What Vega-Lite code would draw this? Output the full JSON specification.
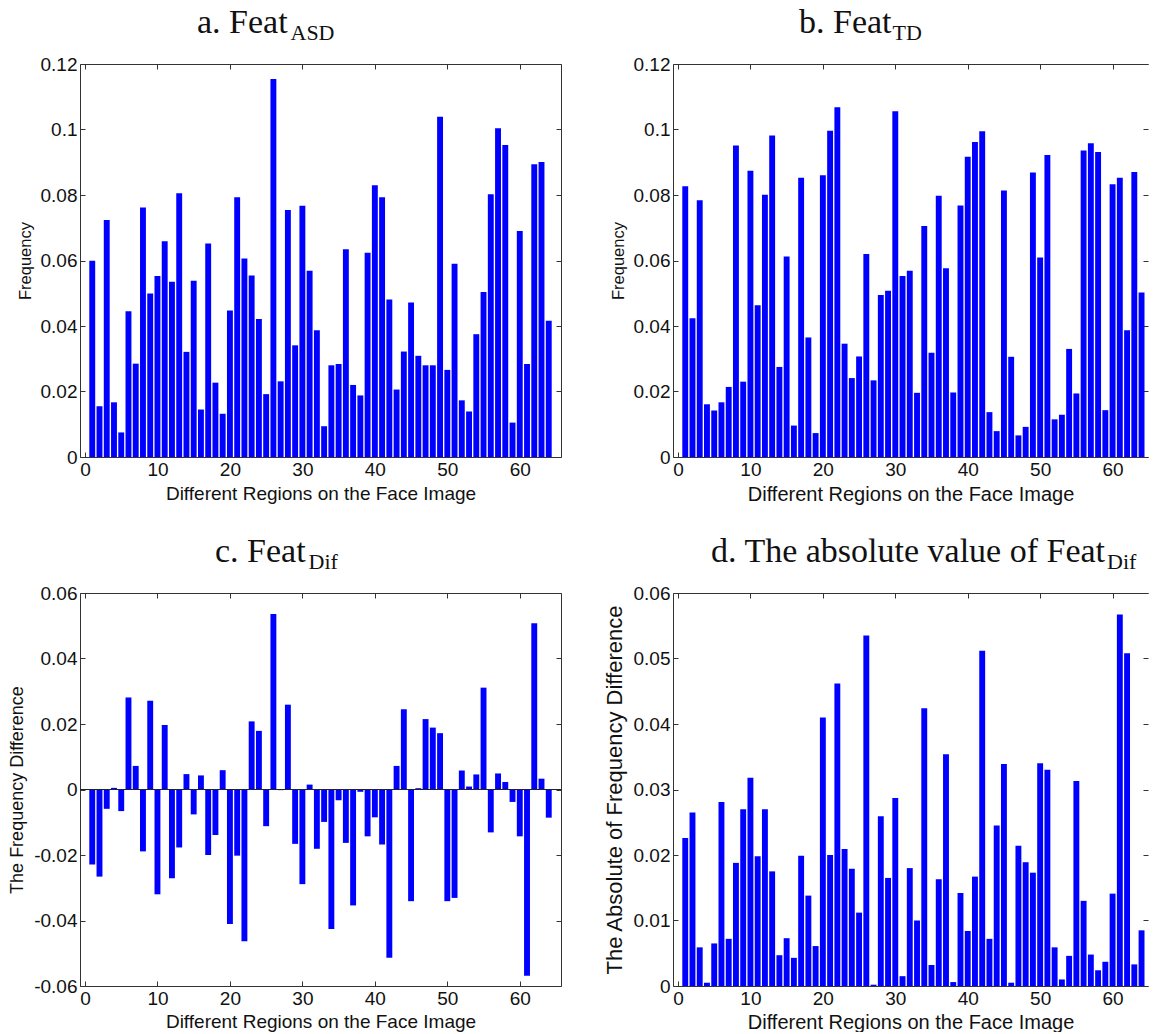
{
  "$schema": "https://vega.github.io/schema/vega-lite/v6.json",
  "padding": {"left": 8, "top": 6, "right": 0, "bottom": 0},
  "background": "white",
  "datasets": {
    "regions": [
      {"i":1,"a":0.0599,"b":0.0827,"c":-0.0229,"d":0.0226},
      {"i":2,"a":0.0155,"b":0.0424,"c":-0.0266,"d":0.0265},
      {"i":3,"a":0.0724,"b":0.0784,"c":-0.0059,"d":0.0059},
      {"i":4,"a":0.0167,"b":0.0161,"c":0.0005,"d":0.0005},
      {"i":5,"a":0.0075,"b":0.0142,"c":-0.0066,"d":0.0065},
      {"i":6,"a":0.0445,"b":0.0167,"c":0.0281,"d":0.0281},
      {"i":7,"a":0.0285,"b":0.0214,"c":0.0072,"d":0.0072},
      {"i":8,"a":0.0762,"b":0.0951,"c":-0.0189,"d":0.0188},
      {"i":9,"a":0.0499,"b":0.023,"c":0.0271,"d":0.027},
      {"i":10,"a":0.0553,"b":0.0874,"c":-0.032,"d":0.0318},
      {"i":11,"a":0.0659,"b":0.0463,"c":0.0197,"d":0.0198},
      {"i":12,"a":0.0535,"b":0.0801,"c":-0.0271,"d":0.027},
      {"i":13,"a":0.0805,"b":0.0982,"c":-0.0177,"d":0.0175},
      {"i":14,"a":0.0321,"b":0.0275,"c":0.0047,"d":0.0047},
      {"i":15,"a":0.0538,"b":0.0612,"c":-0.0076,"d":0.0073},
      {"i":16,"a":0.0145,"b":0.0096,"c":0.0043,"d":0.0043},
      {"i":17,"a":0.0652,"b":0.0853,"c":-0.02,"d":0.0199},
      {"i":18,"a":0.0227,"b":0.0365,"c":-0.0139,"d":0.0138},
      {"i":19,"a":0.0132,"b":0.0073,"c":0.0059,"d":0.0061},
      {"i":20,"a":0.0447,"b":0.086,"c":-0.0411,"d":0.041},
      {"i":21,"a":0.0793,"b":0.0996,"c":-0.0202,"d":0.02},
      {"i":22,"a":0.0606,"b":0.1068,"c":-0.0463,"d":0.0462},
      {"i":23,"a":0.0554,"b":0.0346,"c":0.0208,"d":0.0209},
      {"i":24,"a":0.0421,"b":0.0241,"c":0.0179,"d":0.0179},
      {"i":25,"a":0.0192,"b":0.0307,"c":-0.0112,"d":0.0112},
      {"i":26,"a":0.1154,"b":0.062,"c":0.0536,"d":0.0535},
      {"i":27,"a":0.0231,"b":0.0234,"c":-0.0002,"d":0.0002},
      {"i":28,"a":0.0754,"b":0.0495,"c":0.0259,"d":0.0259},
      {"i":29,"a":0.0341,"b":0.0508,"c":-0.0166,"d":0.0165},
      {"i":30,"a":0.0767,"b":0.1056,"c":-0.0289,"d":0.0287},
      {"i":31,"a":0.0569,"b":0.0553,"c":0.0015,"d":0.0015},
      {"i":32,"a":0.0387,"b":0.0569,"c":-0.0181,"d":0.018},
      {"i":33,"a":0.0094,"b":0.0196,"c":-0.0099,"d":0.01},
      {"i":34,"a":0.028,"b":0.0705,"c":-0.0426,"d":0.0424},
      {"i":35,"a":0.0284,"b":0.0318,"c":-0.0033,"d":0.0032},
      {"i":36,"a":0.0634,"b":0.0798,"c":-0.0163,"d":0.0163},
      {"i":37,"a":0.022,"b":0.0576,"c":-0.0354,"d":0.0354},
      {"i":38,"a":0.0188,"b":0.0197,"c":-0.0007,"d":0.0006},
      {"i":39,"a":0.0624,"b":0.0768,"c":-0.0143,"d":0.0142},
      {"i":40,"a":0.083,"b":0.0917,"c":-0.0085,"d":0.0084},
      {"i":41,"a":0.0793,"b":0.0962,"c":-0.0168,"d":0.0167},
      {"i":42,"a":0.0481,"b":0.0995,"c":-0.0514,"d":0.0512},
      {"i":43,"a":0.0206,"b":0.0137,"c":0.0072,"d":0.0072},
      {"i":44,"a":0.0322,"b":0.0079,"c":0.0245,"d":0.0245},
      {"i":45,"a":0.0472,"b":0.0814,"c":-0.0341,"d":0.0339},
      {"i":46,"a":0.0309,"b":0.0306,"c":0.0004,"d":0.0005},
      {"i":47,"a":0.028,"b":0.0066,"c":0.0215,"d":0.0214},
      {"i":48,"a":0.028,"b":0.0092,"c":0.0189,"d":0.0189},
      {"i":49,"a":0.1039,"b":0.0869,"c":0.0172,"d":0.0173},
      {"i":50,"a":0.0266,"b":0.0609,"c":-0.0341,"d":0.034},
      {"i":51,"a":0.059,"b":0.0922,"c":-0.0331,"d":0.033},
      {"i":52,"a":0.0173,"b":0.0115,"c":0.0058,"d":0.0059},
      {"i":53,"a":0.0139,"b":0.0129,"c":0.0009,"d":0.001},
      {"i":54,"a":0.0375,"b":0.033,"c":0.0046,"d":0.0046},
      {"i":55,"a":0.0504,"b":0.0194,"c":0.0311,"d":0.0313},
      {"i":56,"a":0.0802,"b":0.0936,"c":-0.0131,"d":0.013},
      {"i":57,"a":0.1004,"b":0.0958,"c":0.0049,"d":0.0048},
      {"i":58,"a":0.0953,"b":0.0931,"c":0.0023,"d":0.0024},
      {"i":59,"a":0.0105,"b":0.0143,"c":-0.0038,"d":0.0037},
      {"i":60,"a":0.069,"b":0.0833,"c":-0.0143,"d":0.0141},
      {"i":61,"a":0.0284,"b":0.0853,"c":-0.0569,"d":0.0567},
      {"i":62,"a":0.0894,"b":0.0387,"c":0.0508,"d":0.0508},
      {"i":63,"a":0.0901,"b":0.087,"c":0.0033,"d":0.0033},
      {"i":64,"a":0.0416,"b":0.0502,"c":-0.0086,"d":0.0085}
    ]
  },
  "columns": 2,
  "align": "all",
  "spacing": {"row": 31, "column": 41},
  "concat": [
    {
      "title": {"text": "a. Feat", "subtitle": "\u200d\u00a0\u00a0\u00a0\u00a0\u00a0\u00a0\u00a0\u00a0\u00a0\u00a0\u00a0\u00a0\u00a0\u00a0\u00a0\u00a0\u00a0ASD", "dx": 117},
      "width": 481, "height": 393,
      "data": {"name": "regions"},
      "layer": [
        {"mark": {"type": "bar", "width": 5.9, "color": "#0000ff"},
         "encoding": {
           "x": {"field": "i", "type": "quantitative", "scale": {"domain": [0, 65], "nice": false}, "axis": {"orient": "bottom", "values": [0,10,20,30,40,50,60], "title": "Different Regions on the Face Image", "titleFontSize": 19, "titlePadding": 5}},
           "y": {"field": "a", "type": "quantitative", "scale": {"domain": [0, 0.12], "nice": false}, "axis": {"orient": "left", "values": [0,0.02,0.04,0.06,0.08,0.1,0.12], "title": "Frequency", "titleFontSize": 16.5, "labelExpr": "replace(format(datum.value, '~g'), '−', '-')"}}
         }},
        {"mark": {"type": "point", "opacity": 0},
         "encoding": {
           "x": {"field": "i", "type": "quantitative", "axis": {"orient": "top", "values": [0,10,20,30,40,50,60], "labels": false, "title": null}},
           "y": {"field": "a", "type": "quantitative", "axis": {"orient": "right", "values": [0,0.02,0.04,0.06,0.08,0.1,0.12], "labels": false, "title": null}}
         }}
      ],
      "resolve": {"axis": {"x": "independent", "y": "independent"}}
    },
    {
      "title": {"text": "b. Feat", "subtitle": "\u200d\u00a0\u00a0\u00a0\u00a0\u00a0\u00a0\u00a0\u00a0\u00a0\u00a0\u00a0\u00a0\u00a0\u00a0\u00a0\u00a0\u00a0TD", "dx": 126},
      "width": 475, "height": 393,
      "data": {"name": "regions"},
      "layer": [
        {"mark": {"type": "bar", "width": 5.9, "color": "#0000ff"},
         "encoding": {
           "x": {"field": "i", "type": "quantitative", "scale": {"domain": [0, 64.2], "nice": false}, "axis": {"orient": "bottom", "values": [0,10,20,30,40,50,60], "title": "Different Regions on the Face Image", "titleFontSize": 20, "titlePadding": 5}},
           "y": {"field": "b", "type": "quantitative", "scale": {"domain": [0, 0.12], "nice": false}, "axis": {"orient": "left", "values": [0,0.02,0.04,0.06,0.08,0.1,0.12], "title": "Frequency", "titleFontSize": 16.5, "labelExpr": "replace(format(datum.value, '~g'), '−', '-')"}}
         }},
        {"mark": {"type": "point", "opacity": 0},
         "encoding": {
           "x": {"field": "i", "type": "quantitative", "axis": {"orient": "top", "values": [0,10,20,30,40,50,60], "labels": false, "title": null}},
           "y": {"field": "b", "type": "quantitative", "axis": {"orient": "right", "domain": false, "values": [0,0.02,0.04,0.06,0.08,0.1,0.12], "labels": false, "title": null}}
         }}
      ],
      "resolve": {"axis": {"x": "independent", "y": "independent"}}
    },
    {
      "title": {"text": "c. Feat", "subtitle": "\u200d\u00a0\u00a0\u00a0\u00a0\u00a0\u00a0\u00a0\u00a0\u00a0\u00a0\u00a0\u00a0\u00a0\u00a0\u00a0\u00a0\u00a0Dif", "dx": 135},
      "width": 481, "height": 393,
      "data": {"name": "regions"},
      "layer": [
        {"mark": {"type": "bar", "width": 5.9, "color": "#0000ff"},
         "encoding": {
           "x": {"field": "i", "type": "quantitative", "scale": {"domain": [0, 65], "nice": false}, "axis": {"orient": "bottom", "values": [0,10,20,30,40,50,60], "title": "Different Regions on the Face Image", "titleFontSize": 19, "titlePadding": 4}},
           "y": {"field": "c", "type": "quantitative", "scale": {"domain": [-0.06, 0.06], "nice": false}, "axis": {"orient": "left", "values": [-0.06,-0.04,-0.02,0,0.02,0.04,0.06], "title": "The Frequency Difference", "titleFontSize": 18, "labelExpr": "replace(format(datum.value, '~g'), '−', '-')"}}
         }},
        {"mark": {"type": "rule", "color": "#222", "strokeWidth": 1},
         "encoding": {"y": {"datum": 0, "axis": null}}},
        {"mark": {"type": "point", "opacity": 0},
         "encoding": {
           "x": {"field": "i", "type": "quantitative", "axis": {"orient": "top", "values": [0,10,20,30,40,50,60], "labels": false, "title": null}},
           "y": {"field": "c", "type": "quantitative", "axis": {"orient": "right", "values": [-0.06,-0.04,-0.02,0,0.02,0.04,0.06], "labels": false, "title": null}}
         }}
      ],
      "resolve": {"axis": {"x": "independent", "y": "independent"}}
    },
    {
      "title": {"text": "d. The absolute value of Feat", "subtitle": "\u200d\u00a0\u00a0\u00a0\u00a0\u00a0\u00a0\u00a0\u00a0\u00a0\u00a0\u00a0\u00a0\u00a0\u00a0\u00a0\u00a0\u00a0\u00a0\u00a0\u00a0\u00a0\u00a0\u00a0\u00a0\u00a0\u00a0\u00a0\u00a0\u00a0\u00a0\u00a0\u00a0\u00a0\u00a0\u00a0\u00a0\u00a0\u00a0\u00a0\u00a0\u00a0\u00a0\u00a0\u00a0\u00a0\u00a0\u00a0\u00a0\u00a0\u00a0\u00a0\u00a0\u00a0\u00a0\u00a0\u00a0\u00a0\u00a0\u00a0\u00a0\u00a0\u00a0\u00a0\u00a0\u00a0\u00a0\u00a0\u00a0\u00a0\u00a0\u00a0\u00a0Dif", "dx": 38},
      "width": 475, "height": 393,
      "data": {"name": "regions"},
      "layer": [
        {"mark": {"type": "bar", "width": 5.9, "color": "#0000ff"},
         "encoding": {
           "x": {"field": "i", "type": "quantitative", "scale": {"domain": [0, 64.2], "nice": false}, "axis": {"orient": "bottom", "values": [0,10,20,30,40,50,60], "title": "Different Regions on the Face Image", "titleFontSize": 20, "titlePadding": 4}},
           "y": {"field": "d", "type": "quantitative", "scale": {"domain": [0, 0.06], "nice": false}, "axis": {"orient": "left", "values": [0,0.01,0.02,0.03,0.04,0.05,0.06], "title": "The Absolute of Frequency Difference", "titleFontSize": 22, "labelExpr": "replace(format(datum.value, '~g'), '−', '-')"}}
         }},
        {"mark": {"type": "point", "opacity": 0},
         "encoding": {
           "x": {"field": "i", "type": "quantitative", "axis": {"orient": "top", "values": [0,10,20,30,40,50,60], "labels": false, "title": null}},
           "y": {"field": "d", "type": "quantitative", "axis": {"orient": "right", "domain": false, "values": [0,0.01,0.02,0.03,0.04,0.05,0.06], "labels": false, "title": null}}
         }}
      ],
      "resolve": {"axis": {"x": "independent", "y": "independent"}}
    }
  ],
  "config": {
    "view": {"stroke": null},
    "axis": {
      "grid": false,
      "domainColor": "#333333",
      "tickColor": "#333333",
      "labelColor": "#111111",
      "titleColor": "#111111",
      "labelFont": "Liberation Sans",
      "titleFont": "Liberation Sans",
      "titleFontWeight": "normal",
      "labelFontSize": 19,
      "tickSize": -5,
      "labelPadding": 8,
      "titlePadding": 7,
      "labelFlush": false,
      "labelOverlap": false
    },
    "title": {
      "font": "Liberation Serif",
      "fontSize": 34,
      "fontWeight": "normal",
      "color": "#111111",
      "subtitleFont": "Liberation Serif",
      "subtitleFontSize": 22,
      "subtitleColor": "#111111",
      "subtitlePadding": -17,
      "anchor": "start",
      "frame": "group",
      "offset": 11
    }
  }
}
